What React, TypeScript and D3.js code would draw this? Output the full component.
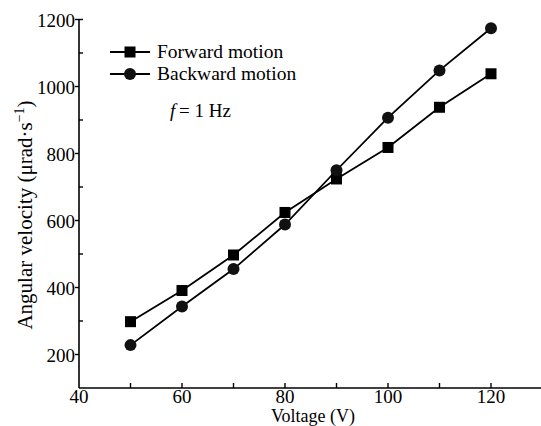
import React, { useEffect, useRef } from 'react';
import * as d3 from 'd3';

// voltages (V)
const voltages = [50, 60, 70, 80, 90, 100, 110, 120];
// angular velocity (µrad/s)
const forwardMotion = [298, 391, 497, 624, 724, 818, 938, 1038];
const backwardMotion = [228, 343, 455, 588, 750, 907, 1048, 1174];

const xTicks = [40, 60, 80, 100, 120];
const xMinorTicks = [50, 70, 90, 110];
const yTicks = [200, 400, 600, 800, 1000, 1200];
const yMinorTicks = [300, 500, 700, 900, 1100];

const seriesNames = ['Forward motion', 'Backward motion'];

export default function App() {
  const ref = useRef<SVGSVGElement>(null);

  useEffect(() => {
    const svg = d3.select(ref.current);
    svg.selectAll('*').remove();

    const font = '"Liberation Serif", "Times New Roman", serif';
    const x = d3.scaleLinear().domain([40, 130]).range([79, 542.5]);
    const y = d3.scaleLinear().domain([100, 1200]).range([388, 19.5]);

    const g = svg.append('g').attr('font-family', font).attr('fill', '#000');

    // axis lines (left and bottom only)
    g.append('line')
      .attr('x1', x(40)).attr('x2', x(130))
      .attr('y1', y(100)).attr('y2', y(100))
      .attr('stroke', '#000').attr('stroke-width', 1.6);
    g.append('line')
      .attr('x1', x(40)).attr('x2', x(40))
      .attr('y1', y(100)).attr('y2', y(1200))
      .attr('stroke', '#000').attr('stroke-width', 1.6);

    // x ticks point inward
    g.selectAll('.xt')
      .data([...xTicks.filter(d => d > 40), ...xMinorTicks])
      .join('line')
      .attr('x1', d => x(d)).attr('x2', d => x(d))
      .attr('y1', y(100)).attr('y2', y(100) - 5)
      .attr('stroke', '#000').attr('stroke-width', 1.4);
    g.selectAll('.xl')
      .data(xTicks)
      .join('text')
      .attr('x', d => x(d)).attr('y', 402.5)
      .attr('text-anchor', 'middle')
      .attr('font-size', 19)
      .text(d => d);

    // y major ticks outward, minor inward
    g.selectAll('.yt')
      .data(yTicks)
      .join('line')
      .attr('x1', x(40) - 4)
      .attr('x2', d => (d === 1200 ? x(40) + 4 : x(40)))
      .attr('y1', d => y(d)).attr('y2', d => y(d))
      .attr('stroke', '#000').attr('stroke-width', 1.4);
    g.selectAll('.ym')
      .data(yMinorTicks)
      .join('line')
      .attr('x1', x(40)).attr('x2', x(40) + 4)
      .attr('y1', d => y(d)).attr('y2', d => y(d))
      .attr('stroke', '#000').attr('stroke-width', 1.4);
    g.selectAll('.yl')
      .data(yTicks)
      .join('text')
      .attr('x', 75).attr('y', d => y(d) + 7)
      .attr('text-anchor', 'end')
      .attr('font-size', 19)
      .text(d => d);

    // axis titles
    g.append('text')
      .attr('x', 313).attr('y', 422)
      .attr('text-anchor', 'middle')
      .attr('font-size', 18)
      .text('Voltage (V)');
    const yl = g.append('text')
      .attr('transform', 'translate(32,215) rotate(-90)')
      .attr('text-anchor', 'middle')
      .attr('font-size', 21);
    yl.append('tspan').text('Angular velocity (\u03bcrad\u00b7s');
    yl.append('tspan').attr('dy', -8).attr('font-size', 14).text('\u22121');
    yl.append('tspan').attr('dy', 8).text(')');

    const line = d3.line<number>()
      .x((_, i) => x(voltages[i]))
      .y(d => y(d));

    const drawSquare = (sel: any, cx: number, cy: number) =>
      sel.append('rect')
        .attr('x', cx - 5.5).attr('y', cy - 5.5)
        .attr('width', 11).attr('height', 11)
        .attr('fill', '#000');
    const drawCircle = (sel: any, cx: number, cy: number) =>
      sel.append('circle')
        .attr('cx', cx).attr('cy', cy).attr('r', 6)
        .attr('fill', '#111');

    [forwardMotion, backwardMotion].forEach((vals, k) => {
      g.append('path')
        .datum(vals)
        .attr('d', line)
        .attr('fill', 'none')
        .attr('stroke', '#000')
        .attr('stroke-width', 1.8);
      vals.forEach((v, i) => {
        if (k === 0) drawSquare(g, x(voltages[i]), y(v));
        else drawCircle(g, x(voltages[i]), y(v));
      });
    });

    // legend
    seriesNames.forEach((name, k) => {
      const ly = 52 + k * 22;
      g.append('line')
        .attr('x1', 110).attr('x2', 150)
        .attr('y1', ly).attr('y2', ly)
        .attr('stroke', '#000').attr('stroke-width', 1.8);
      if (k === 0) drawSquare(g, 130, ly);
      else drawCircle(g, 130, ly);
      g.append('text')
        .attr('x', 157).attr('y', ly + 6)
        .attr('font-size', 19.5)
        .text(name);
    });

    const fl = g.append('text')
      .attr('x', 170).attr('y', 117)
      .attr('font-size', 19);
    fl.append('tspan').attr('font-style', 'italic').text('f');
    fl.append('tspan').text('\u2009= 1 Hz');
  }, []);

  return (
    <svg
      ref={ref}
      width={541}
      height={426}
      style={{ position: 'absolute', left: 0, top: 0, background: '#fff' }}
    />
  );
}
